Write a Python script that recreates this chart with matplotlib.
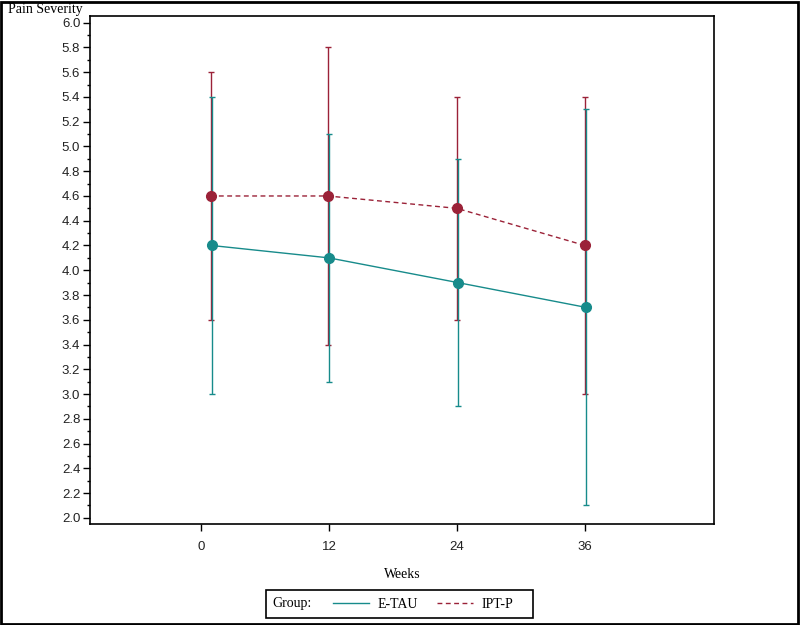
import matplotlib
matplotlib.use("Agg")
import matplotlib.pyplot as plt
from matplotlib.patches import Rectangle
from matplotlib.ticker import MultipleLocator, FormatStrFormatter

plt.rcParams['font.family'] = ['Liberation Serif', 'DejaVu Serif']

# data
weeks_etau = [1.0, 12.0, 24.1, 36.1]
weeks_iptp = [0.9, 11.9, 24.0, 36.0]
etau_mean = [4.2, 4.1, 3.9, 3.7]
etau_low = [3.0, 3.1, 2.9, 2.1]
etau_high = [5.4, 5.1, 4.9, 5.3]
iptp_mean = [4.6, 4.6, 4.5, 4.2]
iptp_low = [3.6, 3.4, 3.6, 3.0]
iptp_high = [5.6, 5.8, 5.4, 5.4]
x_ticks = [0, 12, 24, 36]

teal = '#178b8b'
red = '#9b2238'

fig = plt.figure(figsize=(8, 6.25), dpi=100)
ax = fig.add_axes([90 / 800, 1 - 524 / 625, 624 / 800, 508 / 625])


def err(mean, low, high):
    return [[m - l for m, l in zip(mean, low)], [h - m for m, h in zip(mean, high)]]


ax.errorbar(weeks_iptp, iptp_mean, yerr=err(iptp_mean, iptp_low, iptp_high),
            fmt='none', ecolor=red, elinewidth=1.0, capsize=2.5, capthick=1.0, zorder=2)
ax.errorbar(weeks_etau, etau_mean, yerr=err(etau_mean, etau_low, etau_high),
            fmt='none', ecolor=teal, elinewidth=1.0, capsize=2.5, capthick=1.0, zorder=2)

l_etau, = ax.plot(weeks_etau, etau_mean, color=teal, lw=1.0, ls='-', zorder=3)
l_iptp, = ax.plot(weeks_iptp, iptp_mean, color=red, lw=1.0, ls=(0, (3.5, 2.5)), zorder=3)
ax.plot(weeks_iptp, iptp_mean, 'o', color=red, ms=7, zorder=4)
ax.plot(weeks_etau, etau_mean, 'o', color=teal, ms=7, zorder=4)

ax.set_xlim(-10.4, 48.1)
ax.set_ylim(1.95, 6.054)
ax.set_xticks(x_ticks)
ax.yaxis.set_major_locator(MultipleLocator(0.2))
ax.yaxis.set_minor_locator(MultipleLocator(0.1))
ax.yaxis.set_major_formatter(FormatStrFormatter('%.1f'))
ax.tick_params(axis='both', which='major', length=5, width=1, labelsize=9.5,
               labelcolor='#222222', pad=2)
ax.tick_params(axis='y', which='minor', length=2.5, width=1)
ax.tick_params(axis='x', pad=7)
for lab in ax.get_xticklabels() + ax.get_yticklabels():
    lab.set_fontfamily(['Liberation Sans', 'DejaVu Sans'])
for s in ax.spines.values():
    s.set_linewidth(1.2)

ax.set_xlabel('Weeks', fontsize=10, labelpad=11)
fig.text(8 / 800, 1 - 10 / 625, 'Pain Severity', fontsize=10, va='center', ha='left')

# legend box
fig.patches.append(Rectangle((266 / 800, 1 - 618 / 625), 267 / 800, 28 / 625,
                             transform=fig.transFigure, fill=False, ec='black', lw=1.2))
fig.text(272 / 800, 1 - 604 / 625, 'Group:', fontsize=10, va='center', ha='left')
fig.legend([l_etau, l_iptp], ['E-TAU', 'IPT-P'], loc='center left', ncol=2,
           bbox_to_anchor=(326 / 800, 1 - 604 / 625), frameon=False, fontsize=10,
           handlelength=2.6, handletextpad=0.6, columnspacing=1.4, borderpad=0)

# outer border
fig.patches.append(Rectangle((0.001, 0.0015), 0.997, 0.996, transform=fig.transFigure,
                             fill=False, ec='black', lw=2))

fig.savefig('out.png', dpi=100)
